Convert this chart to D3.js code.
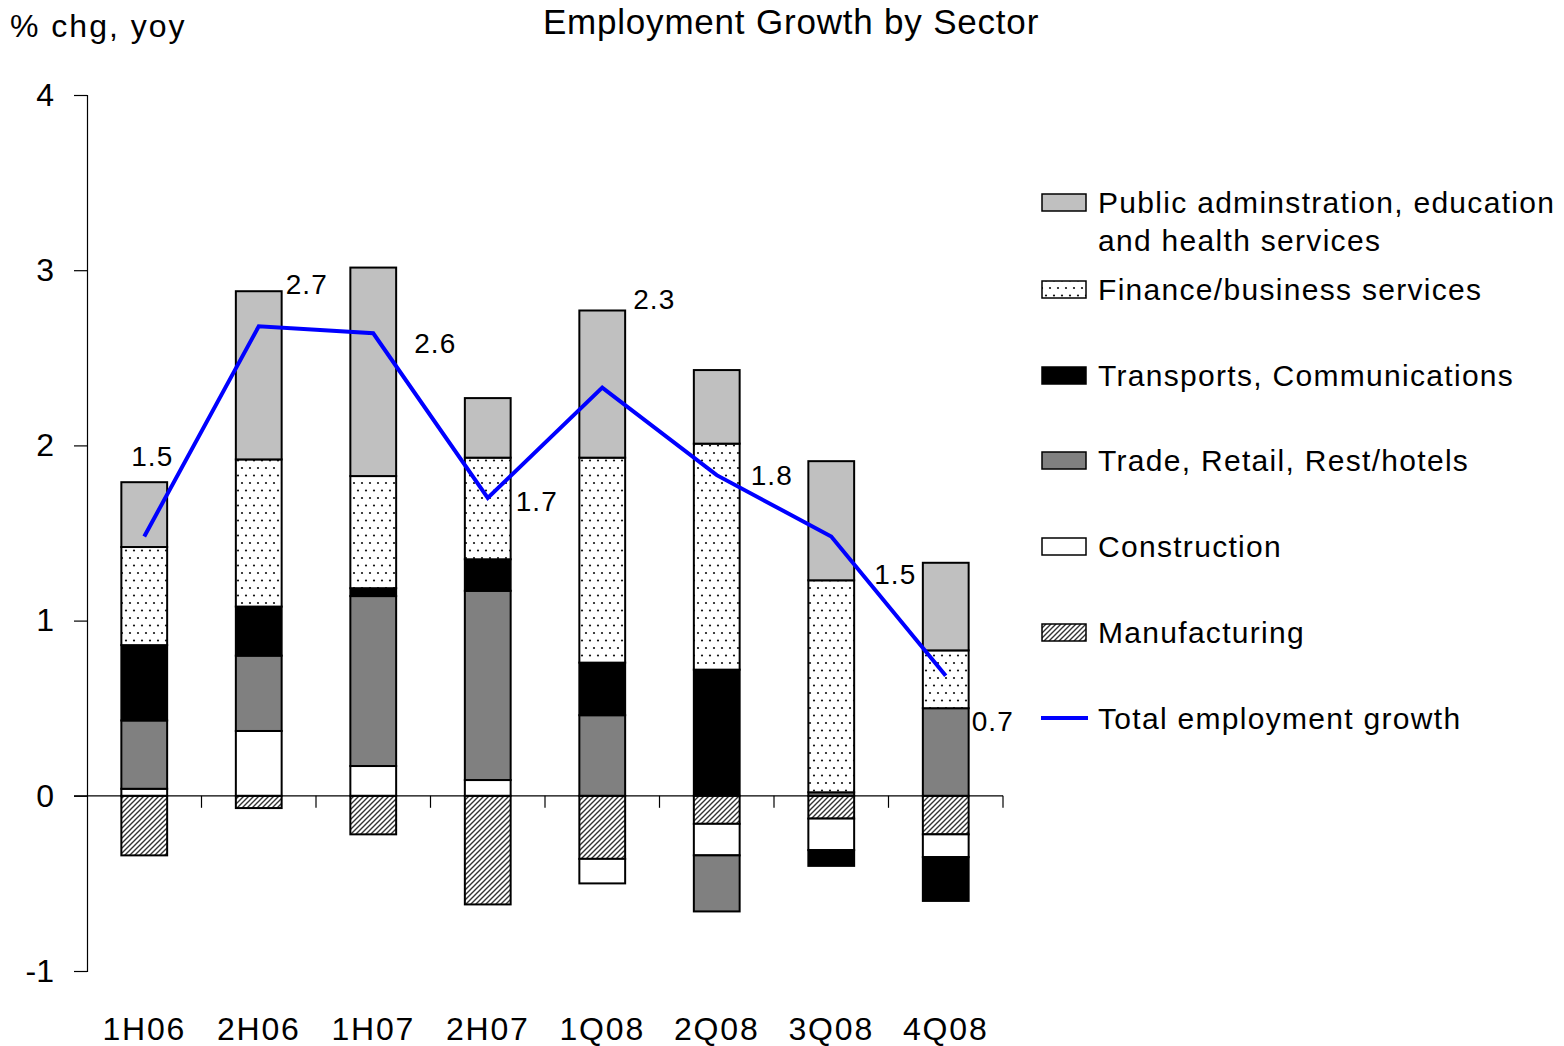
<!DOCTYPE html>
<html><head><meta charset="utf-8">
<script src="https://cdn.jsdelivr.net/npm/d3@7/dist/d3.min.js"></script>
<style>
html,body{margin:0;padding:0;background:#fff;}
svg{display:block;font-family:"Liberation Sans",Arial,sans-serif;}
</style></head>
<body><svg id="chart" width="1564" height="1046"></svg>
<script>
const categories = ["1H06","2H06","1H07","2H07","1Q08","2Q08","3Q08","4Q08"];
const manufacturing = [-0.34, -0.07, -0.22, -0.62, -0.36, -0.16, -0.13, -0.22];
const construction  = [0.04, 0.37, 0.17, 0.09, -0.14, -0.18, -0.18, -0.13];
const trade         = [0.39, 0.43, 0.97, 1.08, 0.46, -0.32, 0.02, 0.50];
const transport     = [0.43, 0.28, 0.045, 0.18, 0.30, 0.72, -0.09, -0.25];
const finance       = [0.56, 0.84, 0.64, 0.58, 1.17, 1.29, 1.21, 0.33];
const publicAdmin   = [0.37, 0.96, 1.19, 0.34, 0.84, 0.42, 0.68, 0.50];
const total         = [1.48, 2.68, 2.64, 1.70, 2.33, 1.83, 1.48, 0.685];
const yTicks = [-1, 0, 1, 2, 3, 4];
const seriesNames = ["Manufacturing","Construction","Trade, Retail, Rest/hotels","Transports, Communications","Finance/business services","Public adminstration, education and health services"];
const legendOrder = [5,4,3,2,1,0];
// label offsets (style) relative to line points
const labelDx = [8, 48, 62, 49, 52, 55, 64, 47];
const labelDy = [-80, -42, 10, 3, -88, 0, 38, 45];

const svg = d3.select("#chart");
const defs = svg.append("defs");
const dots = defs.append("pattern").attr("id","dots").attr("patternUnits","userSpaceOnUse")
  .attr("width",8).attr("height",15);
dots.append("rect").attr("width",8).attr("height",15).attr("fill","#fff");
dots.append("circle").attr("cx",2).attr("cy",3).attr("r",1.1).attr("fill","#111");
dots.append("circle").attr("cx",6).attr("cy",10.5).attr("r",1.1).attr("fill","#111");
const hatch = defs.append("pattern").attr("id","hatch").attr("patternUnits","userSpaceOnUse")
  .attr("width",5).attr("height",5);
hatch.append("rect").attr("width",5).attr("height",5).attr("fill","#fff");
hatch.append("path").attr("d","M-1,6 L6,-1 M-2,2 L2,-2 M3,7 L7,3").attr("stroke","#333").attr("stroke-width",1.4);

const fills = ["url(#hatch)","#ffffff","#808080","#000000","url(#dots)","#c0c0c0"];

const x = d3.scaleBand().domain(categories).range([87, 1003]).paddingInner(0.6).paddingOuter(0.3);
const xOuter = d3.scaleBand().domain(categories).range([87, 1003]);
const y = d3.scaleLinear().domain([-1, 4]).range([971, 95]);

const rows = categories.map((c,i)=>({cat:c, s0:manufacturing[i], s1:construction[i], s2:trade[i], s3:transport[i], s4:finance[i], s5:publicAdmin[i]}));
const keys = ["s0","s1","s2","s3","s4","s5"];
const stacked = d3.stack().keys(keys).offset(d3.stackOffsetDiverging)(rows);

// axes
const yAxis = d3.axisLeft(y).tickValues(yTicks).tickSize(13).tickPadding(20).tickFormat(d=>String(d));
const gy = svg.append("g").attr("transform","translate(87,0)").call(yAxis);
gy.select(".domain").attr("stroke","#000").attr("stroke-width",1.2);
gy.selectAll(".tick line").attr("stroke","#000").attr("stroke-width",1.2);
gy.selectAll(".tick text").attr("font-size",32).attr("fill","#000").attr("font-family","Liberation Sans, Arial, sans-serif");

const gx = svg.append("g");
gx.append("line").attr("x1",74).attr("x2",1003).attr("y1",y(0)).attr("y2",y(0)).attr("stroke","#000").attr("stroke-width",1.2);
gx.selectAll("line.tk").data(categories).join("line").attr("class","tk")
  .attr("x1",d=>xOuter(d)+xOuter.bandwidth()).attr("x2",d=>xOuter(d)+xOuter.bandwidth())
  .attr("y1",y(0)).attr("y2",y(0)+12).attr("stroke","#000").attr("stroke-width",1.2);
gx.selectAll("text").data(categories).join("text")
  .attr("x",d=>x(d)+x.bandwidth()/2).attr("y",1040).attr("text-anchor","middle")
  .attr("font-size",32).attr("letter-spacing",1.8).text(d=>d);

// bars
stacked.forEach((layer,k)=>{
  svg.append("g").selectAll("rect").data(layer).join("rect")
    .attr("x",d=>x(d.data.cat)).attr("width",x.bandwidth())
    .attr("y",d=>y(Math.max(d[0],d[1]))).attr("height",d=>Math.abs(y(d[0])-y(d[1])))
    .attr("fill",fills[k]).attr("stroke","#000").attr("stroke-width",2);
});

// line
const line = d3.line().x((d,i)=>x(categories[i])+x.bandwidth()/2).y(d=>y(d));
svg.append("path").datum(total).attr("d",line).attr("fill","none").attr("stroke","#0000ff").attr("stroke-width",4).attr("stroke-linejoin","miter");
const fmt = d3.format(".1f");
svg.append("g").selectAll("text").data(total).join("text")
  .attr("x",(d,i)=>x(categories[i])+x.bandwidth()/2+labelDx[i])
  .attr("y",(d,i)=>y(d)+labelDy[i]).attr("dy","0.35em")
  .attr("text-anchor","middle").attr("font-size",28).attr("letter-spacing",1).text(d=>fmt(d));

// titles
svg.append("text").attr("x",791).attr("y",34).attr("text-anchor","middle").attr("font-size",35).attr("letter-spacing",0.8).text("Employment Growth by Sector");
svg.append("text").attr("x",10).attr("y",37).attr("font-size",32).attr("letter-spacing",2).text("% chg, yoy");

// legend
const lg = svg.append("g");
const rowY = [202, 289, 375, 460, 546, 632, 718];
legendOrder.forEach((k,j)=>{
  lg.append("rect").attr("x",1042).attr("y",rowY[j]-8).attr("width",44).attr("height",17)
    .attr("fill",fills[k]).attr("stroke","#000").attr("stroke-width",1.5);
});
const legendText = [["Public adminstration, education","and health services"],["Finance/business services"],["Transports, Communications"],["Trade, Retail, Rest/hotels"],["Construction"],["Manufacturing"],["Total employment growth"]];
legendText.forEach((lines,j)=>{
  lines.forEach((t,li)=>{
    lg.append("text").attr("x",1098).attr("y",rowY[j]+11+li*38).attr("font-size",30).attr("letter-spacing",1.3).text(t);
  });
});
lg.append("line").attr("x1",1041).attr("x2",1088).attr("y1",rowY[6]).attr("y2",rowY[6]).attr("stroke","#0000ff").attr("stroke-width",4);
</script></body></html>
